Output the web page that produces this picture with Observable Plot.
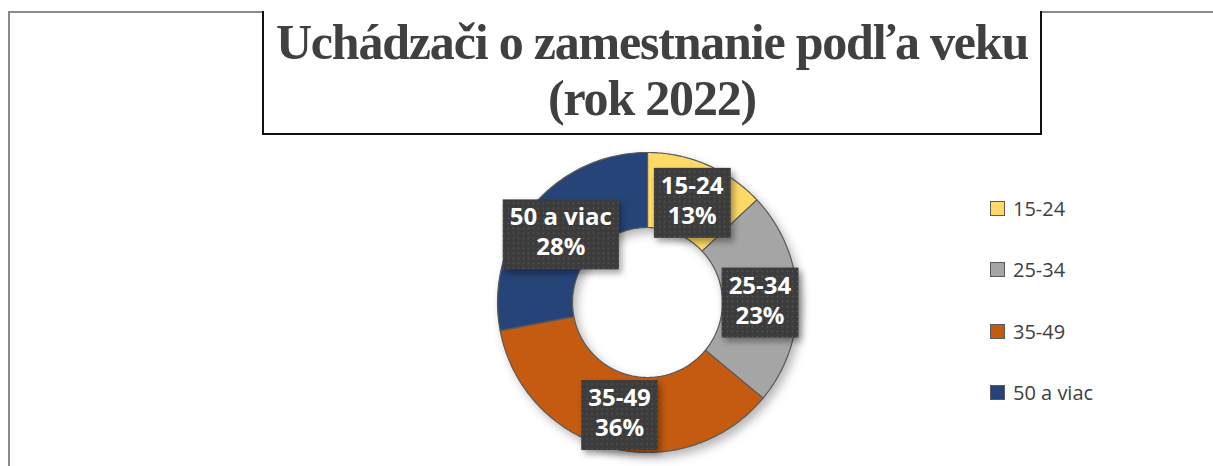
<!DOCTYPE html>
<html>
<head>
<meta charset="utf-8">
<script src="https://cdn.jsdelivr.net/npm/d3@7"></script>
<script src="https://cdn.jsdelivr.net/npm/@observablehq/plot@0.6"></script>
<style>
  html, body { margin: 0; padding: 0; background: #fff; }
  #page { position: relative; width: 1213px; height: 466px; overflow: hidden; background: #fff; }
  #frameTop { position: absolute; left: 8px; top: 11px; width: 1205px; height: 2px; background: #8a8a8a; }
  #frameLeft { position: absolute; left: 8px; top: 11px; width: 2px; height: 455px; background: #8a8a8a; }
  #chart { position: absolute; left: 0; top: 0; }
  #title { position: absolute; left: 262px; top: 11px; width: 776px; height: 119px;
           border: 2px solid #111; border-top: none; background: #fff;
           font-family: "Liberation Serif", "Times New Roman", serif; font-weight: bold;
           font-size: 50px; line-height: 56px; color: #404040; text-align: center;
           white-space: nowrap; letter-spacing: -1.2px;
           box-sizing: content-box; padding-top: 3px; }
  #legend { position: absolute; left: 990px; top: 198px; font-family: "Open Sans", sans-serif;
            font-size: 20px; color: #404040; }
  .item { position: absolute; left: 0; height: 20px; white-space: nowrap; display: flex; align-items: center; }
  .sw { width: 13px; height: 13px; border: 1.5px solid #5a5a5a; margin-right: 8px; }
</style>
</head>
<body>
<div id="page">
  <div id="frameTop"></div>
  <div id="frameLeft"></div>
  <div id="chart"></div>
  <div id="title"></div>
  <div id="legend"></div>
</div>
<script>
const titleLines = ["Uchádzači o zamestnanie podľa veku", "(rok 2022)"];
const categories = ["15-24", "25-34", "35-49", "50 a viac"];
const shares = [13, 23, 36, 28];
const shareLabels = ["13%", "23%", "36%", "28%"];
const colors = ["#FFD966", "#A5A5A5", "#C55A11", "#264478"];

// Title
document.getElementById("title").innerHTML = titleLines.map(t => `<div>${t}</div>`).join("");

// Donut geometry from data
const pie = d3.pie().sort(null).value(d => d)(shares);
const rOuter = 1, rInner = 0.5, rLabel = 0.75;
const ringRows = [];
pie.forEach((p, i) => {
  const n = Math.max(8, Math.ceil((p.endAngle - p.startAngle) * 60));
  for (let k = 0; k <= n; k++) {
    const a = p.startAngle + (p.endAngle - p.startAngle) * k / n;
    ringRows.push({cat: categories[i], x: rOuter * Math.sin(a), y: rOuter * Math.cos(a)});
  }
  for (let k = n; k >= 0; k--) {
    const a = p.startAngle + (p.endAngle - p.startAngle) * k / n;
    ringRows.push({cat: categories[i], x: rInner * Math.sin(a), y: rInner * Math.cos(a)});
  }
});
const labelRows = pie.map((p, i) => {
  const a = (p.startAngle + p.endAngle) / 2;
  return {cat: categories[i], text: categories[i] + "\n" + shareLabels[i],
          x: rLabel * Math.sin(a), y: rLabel * Math.cos(a)};
});

const svg = Plot.plot({
  width: 1213,
  height: 466,
  margin: 0,
  x: {domain: [-1, 1], range: [497, 797], axis: null},
  y: {domain: [-1, 1], range: [452, 152], axis: null},
  color: {domain: categories, range: colors},
  marks: [
    Plot.line(ringRows, {x: "x", y: "y", z: "cat", fill: "cat", stroke: "#5a5a5a",
                         strokeWidth: 1.2, curve: "linear-closed"}),
    Plot.text(labelRows, {x: "x", y: "y", text: "text", fill: "white", fontWeight: "bold",
                          fontSize: 24, lineHeight: 1.25, fontFamily: "Open Sans"})
  ]
});
svg.style.background = "transparent";
document.getElementById("chart").appendChild(svg);

// pattern for label boxes
const ns = "http://www.w3.org/2000/svg";
const defs = document.createElementNS(ns, "defs");
defs.innerHTML = `<pattern id="dots" width="5" height="5" patternUnits="userSpaceOnUse">
  <rect width="5" height="5" fill="#3c3c3c"></rect>
  <circle cx="2.5" cy="2.5" r="0.7" fill="#5e5e5e"></circle></pattern>`;
svg.insertBefore(defs, svg.firstChild);

// shadow on ring
const ringG = svg.querySelector('g[aria-label="line"]');
if (ringG) ringG.style.filter = "drop-shadow(4px 5px 5px rgba(0,0,0,0.28))";

// label boxes
svg.querySelectorAll('g[aria-label="text"] text').forEach(t => {
  const b = t.getBBox();
  const tr = t.getAttribute("transform");
  const r = document.createElementNS(ns, "rect");
  r.setAttribute("x", b.x - 7);
  r.setAttribute("y", b.y);
  r.setAttribute("width", b.width + 14);
  r.setAttribute("height", b.height + 7);
  r.setAttribute("fill", "url(#dots)");
  if (tr) r.setAttribute("transform", tr);
  r.style.filter = "drop-shadow(3px 4px 3px rgba(0,0,0,0.35))";
  t.parentNode.insertBefore(r, t);
});

// legend
const leg = document.getElementById("legend");
categories.forEach((c, i) => {
  const d = document.createElement("div");
  d.className = "item";
  d.style.top = (i * 61.5) + "px";
  d.innerHTML = `<span class="sw" style="background:${colors[i]}"></span><span>${c}</span>`;
  leg.appendChild(d);
});
</script>
</body>
</html>
